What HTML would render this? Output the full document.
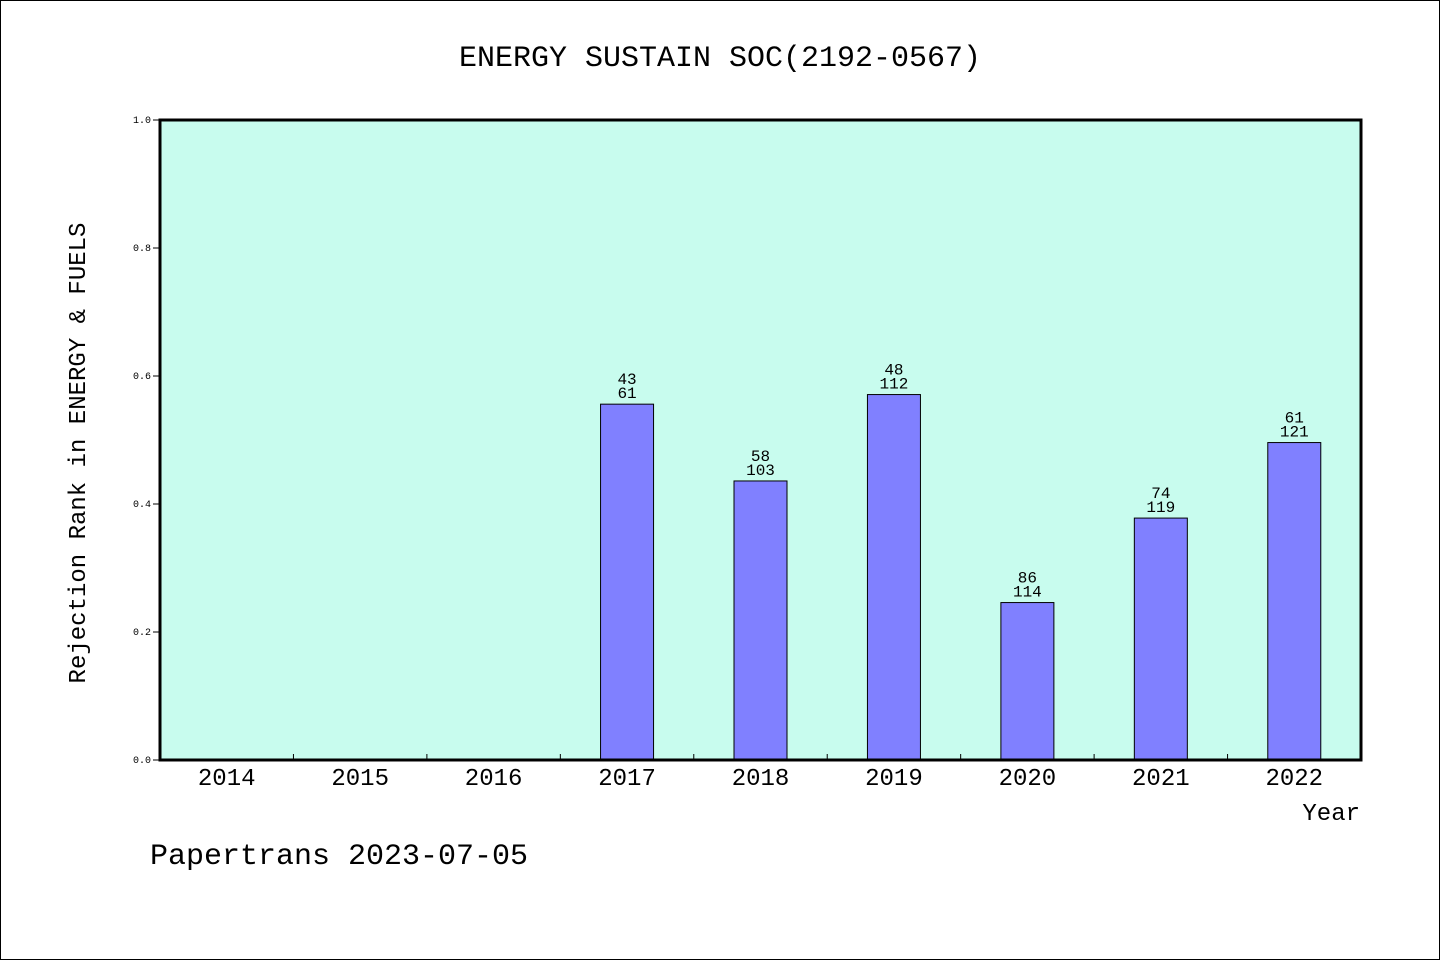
<!DOCTYPE html>
<html><head><meta charset="utf-8"><style>
html,body{margin:0;padding:0;background:#fff;}
svg{display:block;}
text{font-family:"WenQuanYi Zen Hei","Liberation Mono",monospace;fill:#000;}
</style></head><body>
<svg id="chart" width="1440" height="960" xmlns="http://www.w3.org/2000/svg">
<rect x="0.5" y="0.5" width="1439" height="959" fill="#fff" stroke="#000"/>
<text x="720" y="66" font-size="30" text-anchor="middle">ENERGY SUSTAIN SOC(2192-0567)</text>
<rect x="160" y="120" width="1201" height="640" fill="#c8fcee"/>
<g id="bars"></g>
<g id="axes"></g>
<rect x="160" y="120" width="1201" height="640" fill="none" stroke="#000" stroke-width="3"/>
<text transform="translate(85,453) rotate(-90)" font-size="24" text-anchor="middle">Rejection Rank in ENERGY &amp; FUELS</text>
<text x="1360" y="820" font-size="24" text-anchor="end">Year</text>
<text x="150" y="864" font-size="30">Papertrans 2023-07-05</text>
</svg>
<script>
const categories=["2014","2015","2016","2017","2018","2019","2020","2021","2022"];
const values=[null,null,null,0.556,0.436,0.571,0.246,0.378,0.496];
const ranks=[null,null,null,"43","58","48","86","74","61"];
const totals=[null,null,null,"61","103","112","114","119","121"];
const yTicks=[0,0.2,0.4,0.6,0.8,1.0];
const yTickLabels=["0.0","0.2","0.4","0.6","0.8","1.0"];
const NS="http://www.w3.org/2000/svg";
const X0=160,X1=1361,Y0=760,Y1=120;
const band=(X1-X0)/categories.length;
const xC=i=>X0+band*(i+0.5);
const y=v=>Y0-(v/1)*(Y0-Y1);
function mk(tag,attrs,parent){const e=document.createElementNS(NS,tag);for(const k in attrs)e.setAttribute(k,attrs[k]);parent.appendChild(e);return e;}
const bars=document.getElementById('bars'),axes=document.getElementById('axes');
const bw=53;
categories.forEach((c,i)=>{
  const t=mk('text',{x:xC(i),y:785,'font-size':24,'text-anchor':'middle'},axes);
  t.textContent=c;
  
  
  if(i>0){const l=mk('line',{x1:X0+band*i,x2:X0+band*i,y1:760,y2:754,stroke:'#000'},axes);
    
    }
  const v=values[i];
  if(v!=null){
    const r=mk('rect',{x:xC(i)-bw/2,y:y(v),width:bw,height:Y0-y(v),fill:'#8080ff',stroke:'#000','stroke-width':1},bars);
    
    
    const a=mk('text',{x:xC(i),y:y(v)-20,'font-size':16,'text-anchor':'middle'},bars);
    a.textContent=ranks[i];
    
    
    const b=mk('text',{x:xC(i),y:y(v)-6,'font-size':16,'text-anchor':'middle'},bars);
    b.textContent=totals[i];
    
    
  }
});
yTicks.forEach((v,i)=>{
  const l=mk('line',{x1:153,x2:160,y1:y(v),y2:y(v),stroke:'#000'},axes);
  
  
  const t=mk('text',{x:151,y:y(v)+3,'font-size':10,'text-anchor':'end'},axes);
  t.textContent=yTickLabels[i];
  
  
});
</script>
</body></html>
